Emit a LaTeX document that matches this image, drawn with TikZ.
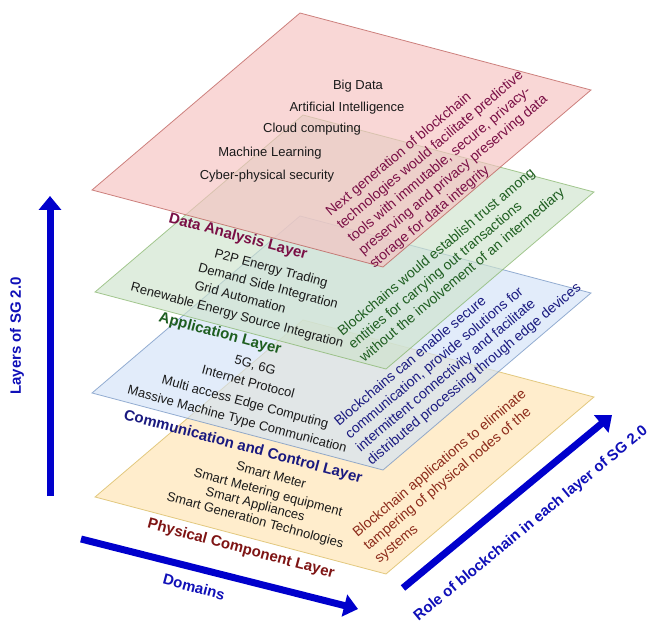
\documentclass[tikz,border=0pt]{standalone}
\usepackage{fontspec}
\setmainfont{Liberation Sans}
\usetikzlibrary{arrows.meta}
\definecolor{pinkF}{HTML}{F6C1C0}
\definecolor{pinkD}{HTML}{B85450}
\definecolor{greenF}{HTML}{CEE3CC}
\definecolor{greenD}{HTML}{82B366}
\definecolor{blueF}{HTML}{D2E2F7}
\definecolor{blueD}{HTML}{6C8EBF}
\definecolor{orangeF}{HTML}{FFE3B0}
\definecolor{orangeD}{HTML}{D6B656}
\definecolor{txtblack}{HTML}{1A1A1A}
\definecolor{magentaT}{HTML}{7A0F45}
\definecolor{greenT}{HTML}{1E5E20}
\definecolor{blueT}{HTML}{1A1A80}
\definecolor{redT}{HTML}{7E1414}
\definecolor{brownT}{HTML}{8C2A1A}
\definecolor{arrowB}{HTML}{0000CC}
\definecolor{labelB}{HTML}{1010B8}
\begin{document}
\begin{tikzpicture}[x=1pt,y=-1pt,
  plane/.style={line width=0.8pt, fill opacity=0.65, draw opacity=0.7},
  item/.style={font=\fontsize{13}{15}\selectfont, text=txtblack, inner sep=0pt, text height=9.5pt, text depth=2.8pt},
  ritem/.style={item, rotate=-15},
  title/.style={font=\bfseries\fontsize{15}{18}\selectfont, inner sep=0pt, rotate=-15, text height=11pt, text depth=3pt},
  role/.style={font=\fontsize{14}{17}\selectfont, align=left, rotate=40, anchor=west, inner sep=0pt},
  bigarrow/.style={draw=arrowB, line width=7pt, -{Triangle[width=22pt,length=14pt]}},
  axislabel/.style={font=\bfseries\fontsize{15}{18}\selectfont, text=labelB, inner sep=0pt}
]
\useasboundingbox (0,0) rectangle (649,623);

% planes (bottom first)
\filldraw[plane, fill=orangeF, draw=orangeD] (95,497) -- (303,320) -- (594,397) -- (386,574) -- cycle;
\filldraw[plane, fill=blueF, draw=blueD] (92,393) -- (300,216) -- (591,293) -- (383,470) -- cycle;
\filldraw[plane, fill=greenF, draw=greenD] (95,292) -- (303,115) -- (594,192) -- (386,369) -- cycle;
\filldraw[plane, fill=pinkF, draw=pinkD] (92,190) -- (300,13) -- (591,90) -- (383,267) -- cycle;

% data analysis layer
\node[item] (bd) at (358,86) {Big Data};
\node[item] (ai) at (347,108) {Artificial Intelligence};
\node[item] (cc) at (312,129) {Cloud computing};
\node[item] (ml) at (270,153) {Machine Learning};
\node[item] (cps) at (267,176) {Cyber-physical security};
\node[title, text=magentaT] (tda) at (238,237) {Data Analysis Layer};
\node[role, text=magentaT] (rda) at (350,240) {Next generation of blockchain\\technologies would facilitate predictive\\tools with immutable, secure, privacy-\\preserving and privacy preserving data\\storage for data integrity};

% application layer
\node[ritem] (p2p) at (271,269) {P2P Energy Trading};
\node[ritem] (dsi) at (268,287) {Demand Side Integration};
\node[ritem] (ga) at (240,298) {Grid Automation};
\node[ritem] (resi) at (237,316) {Renewable Energy Source Integration};
\node[title, text=greenT] (tap) at (220,334) {Application Layer};
\node[role, text=greenT] (rap) at (351,347) {Blockchains would establish trust among\\entities for carrying out transactions\\without the involvement of an intermediary};

% communication layer
\node[ritem] (g5) at (255,366) {5G, 6G};
\node[ritem] (ip) at (248,383) {Internet Protocol};
\node[ritem] (mec) at (245,403) {Multi access Edge Computing};
\node[ritem] (mmtc) at (237,420) {Massive Machine Type Communication};
\node[title, text=blueT] (tcc) at (243,447) {Communication and Control Layer};
\node[role, text=blueT] (rcc) at (353,443) {Blockchains can enable secure\\communication, provide solutions for\\intermittent connectivity and facilitate\\distributed processing through edge devices};

% physical layer
\node[ritem] (sm) at (271,476) {Smart Meter};
\node[ritem] (sme) at (268,493) {Smart Metering equipment};
\node[ritem] (sa) at (255,505) {Smart Appliances};
\node[ritem] (sgt) at (255,521) {Smart Generation Technologies};
\node[title, text=redT] (tpc) at (241,549) {Physical Component Layer};
\node[role, text=brownT] (rpc) at (366,548) {Blockchain applications to eliminate\\tampering of physical nodes of the\\systems};

% axes
\coordinate (vA) at (50,496);
\coordinate (vB) at (50,196);
\coordinate (dA) at (81,539);
\coordinate (dB) at (358,609);
\coordinate (rA) at (403,588);
\coordinate (rB) at (612,415);
\draw[bigarrow] (vA) -- (vB);
\draw[bigarrow] (dA) -- (dB);
\draw[bigarrow] (rA) -- (rB);
\node[axislabel, rotate=90] (lay) at (17,336) {Layers of SG 2.0};
\node[axislabel, rotate=-15] (dom) at (194,587) {Domains};
\node[axislabel, rotate=39.5] (rol) at (531,524) {Role of blockchain in each layer of SG 2.0};
\end{tikzpicture}
\end{document}
